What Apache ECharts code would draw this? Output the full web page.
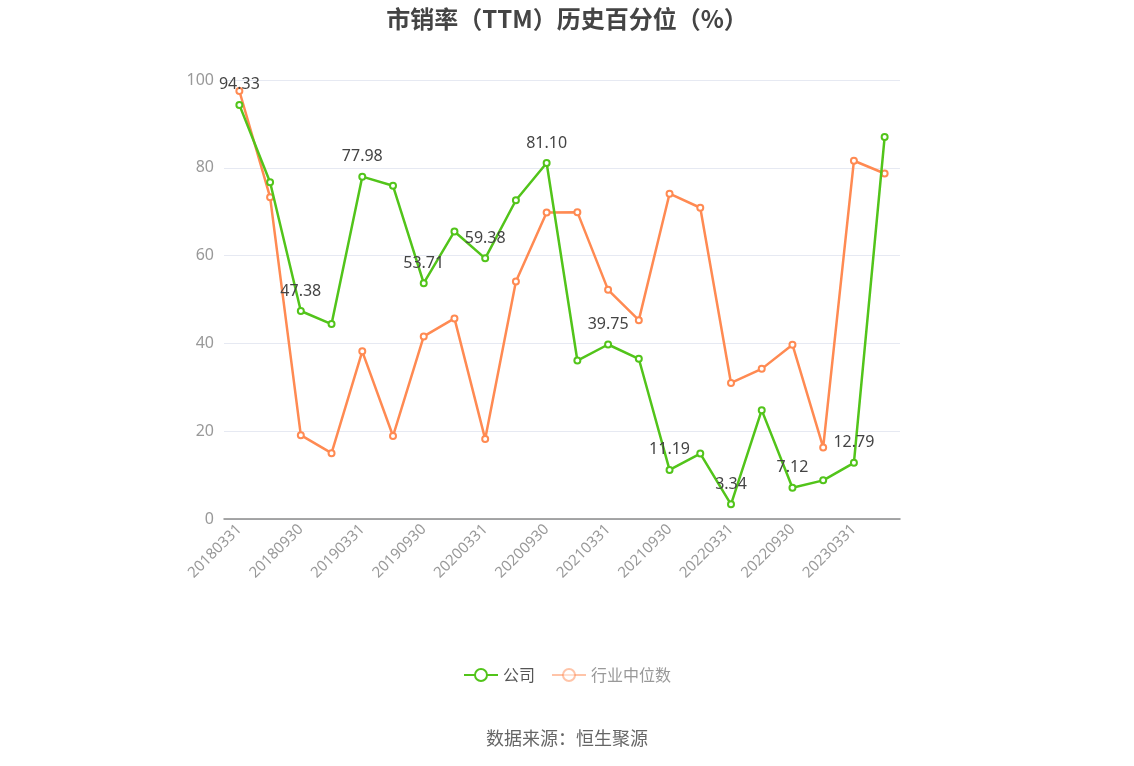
<!DOCTYPE html>
<html>
<head>
<meta charset="utf-8">
<script src="https://cdn.jsdelivr.net/npm/echarts@6/dist/echarts.min.js"></script>
<style>html,body{margin:0;padding:0;background:#fff}#c{width:1134px;height:766px}</style>
</head>
<body>
<div id="c"></div>
<script>
var categories = ['20180331','20180630','20180930','20181231','20190331','20190630','20190930','20191231','20200331','20200630','20200930','20201231','20210331','20210630','20210930','20211231','20220331','20220630','20220930','20221231','20230331','20230630'];
var companyValues = [94.33,76.7,47.38,44.4,77.98,75.9,53.71,65.5,59.38,72.6,81.10,36.1,39.75,36.5,11.19,14.9,3.34,24.8,7.12,8.8,12.79,87.0];
var industryValues = [97.5,73.3,19.1,15.0,38.2,18.9,41.6,45.7,18.2,54.1,69.8,69.9,52.2,45.3,74.1,70.9,31.0,34.2,39.7,16.3,81.6,78.7];
var seriesNames = ['公司','行业中位数'];

var font = '"Noto Sans","Noto Sans CJK SC",sans-serif';
var chart = echarts.init(document.getElementById('c'));
chart.setOption({
  animation: false,
  textStyle: {fontFamily: font},
  title: {
    text: '市销率（TTM）历史百分位（%）',
    left: 'center', top: 2,
    textStyle: {fontSize: 24, fontWeight: 'bold', color: '#444', fontFamily: '"Noto Sans CJK SC",sans-serif'}
  },
  grid: {left: 224, right: 234, top: 80, bottom: 247},
  legend: {
    bottom: 78, left: 'center', itemWidth: 34, itemHeight: 15, itemGap: 16,
    textStyle: {fontSize: 16, color: '#555', fontFamily: '"Noto Sans CJK SC",sans-serif'},
    data: [
      {name: seriesNames[0]},
      {name: seriesNames[1], textStyle: {color: '#999'}, itemStyle: {opacity: 0.5}, lineStyle: {opacity: 0.5}}
    ]
  },
  graphic: [{
    type: 'text', left: 'center', top: 729,
    style: {text: '数据来源：恒生聚源', fill: '#666', font: '18px "Noto Sans CJK SC",sans-serif'}
  }],
  xAxis: {
    type: 'category', data: categories, boundaryGap: true,
    axisLine: {lineStyle: {color: '#8a8a8a', width: 1.5}},
    axisTick: {alignWithLabel: true, interval: 1, lineStyle: {color: '#8a8a8a'}},
    axisLabel: {interval: 1, rotate: 45, fontSize: 15, color: '#999', margin: 8}
  },
  yAxis: {
    type: 'value', min: 0, max: 100, interval: 20,
    axisLine: {show: false}, axisTick: {show: false},
    axisLabel: {fontSize: 16, color: '#999', margin: 10},
    splitLine: {lineStyle: {color: '#e6e9f2'}}
  },
  series: [
    {
      name: seriesNames[0], type: 'line', data: companyValues,
      symbol: 'emptyCircle', symbolSize: 6,
      lineStyle: {width: 2.5, color: '#52c41a'},
      itemStyle: {color: '#52c41a', borderWidth: 2},
      label: {
        show: true, position: 'top', fontSize: 16, color: '#444', distance: 8,
        formatter: function (p) { return p.dataIndex % 2 === 0 ? p.value.toFixed(2) : ''; }
      },
      z: 3
    },
    {
      name: seriesNames[1], type: 'line', data: industryValues,
      symbol: 'emptyCircle', symbolSize: 6,
      lineStyle: {width: 2.5, color: '#ff8a52'},
      itemStyle: {color: '#ff8a52', borderWidth: 2},
      z: 2
    }
  ]
});
</script>
</body>
</html>
